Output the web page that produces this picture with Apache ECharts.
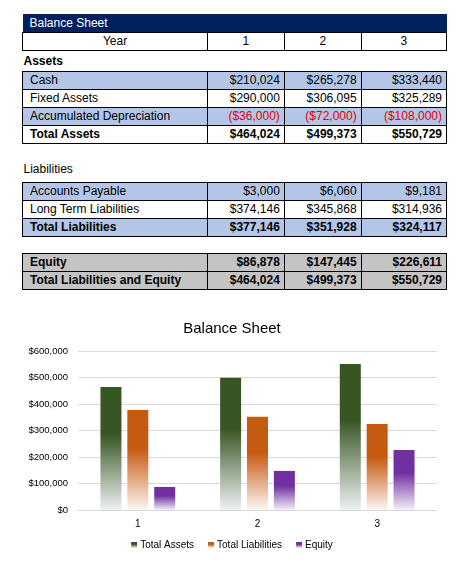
<!DOCTYPE html>
<html>
<head>
<meta charset="utf-8">
<script src="https://cdn.jsdelivr.net/npm/echarts@6/dist/echarts.min.js"></script>
<style>
  body { margin: 0; background: #fff; font-family: "Liberation Sans", Arial, sans-serif; }
  #sheet { position: absolute; left: 22px; top: 14px; width: 425px; border-collapse: collapse; font-size: 12px; color: #000; }
  #sheet td { height: 17px; padding: 0 4px; line-height: 17px; white-space: nowrap; }
  #sheet td.lbl { padding-left: 7px; }
  #sheet tr.head td { background: #002060; color: #fff; height: 18px; }
  #sheet tr.b td { border: 1px solid #000; }
  #sheet tr.blue td { background: #b4c6e7; }
  #sheet tr.grey td { background: #c4c4c4; }
  #sheet tr.bold td { font-weight: bold; }
  #sheet td.num { text-align: right; }
  #sheet td.neg { color: #e00000; }
  #sheet tr.gap td { height: 12px; }
  #chart { position: absolute; left: 0; top: 300px; width: 464px; height: 277px; }
</style>
</head>
<body>
<table id="sheet"></table>
<div id="chart"></div>
<script>
var years = ['1', '2', '3'];
var cash = [210024, 265278, 333440];
var fixedAssets = [290000, 306095, 325289];
var accumDepreciation = [-36000, -72000, -108000];
var totalAssets = [464024, 499373, 550729];
var accountsPayable = [3000, 6060, 9181];
var longTermLiabilities = [374146, 345868, 314936];
var totalLiabilities = [377146, 351928, 324117];
var equity = [86878, 147445, 226611];
var totalLiabEquity = [464024, 499373, 550729];

function money(v) {
    var s = '$' + Math.abs(v).toLocaleString('en-US');
    return v < 0 ? '(' + s + ')' : s;
}

// table rows: [label, values, row classes]
function row(label, vals, cls) {
    var html = '<tr class="' + cls + '"><td class="lbl">' + label + '</td>';
    for (var i = 0; i < vals.length; i++) {
        html += '<td class="num' + (vals[i] < 0 ? ' neg' : '') + '">' + money(vals[i]) + '</td>';
    }
    return html + '</tr>';
}

var t = '';
t += '<tr class="head"><td class="lbl" colspan="4">Balance Sheet</td></tr>';
t += '<tr class="b"><td style="text-align:center;width:176px">Year</td>';
for (var i = 0; i < years.length; i++) t += '<td style="text-align:center">' + years[i] + '</td>';
t += '</tr>';
t += '<tr class="bold"><td class="lbl" colspan="4" style="height:20px;line-height:20px;padding-left:1px">Assets</td></tr>';
t += row('Cash', cash, 'b blue');
t += row('Fixed Assets', fixedAssets, 'b');
t += row('Accumulated Depreciation', accumDepreciation, 'b blue');
t += row('Total Assets', totalAssets, 'b bold');
t += '<tr class="gap"><td colspan="4"></td></tr>';
t += '<tr><td class="lbl" colspan="4" style="height:22px;line-height:26px;padding-left:1px">Liabilities</td></tr>';
t += row('Accounts Payable', accountsPayable, 'b blue');
t += row('Long Term Liabilities', longTermLiabilities, 'b');
t += row('Total Liabilities', totalLiabilities, 'b blue bold');
t += '<tr class="gap"><td colspan="4" style="height:16px"></td></tr>';
t += row('Equity', equity, 'b grey bold');
t += row('Total Liabilities and Equity', totalLiabEquity, 'b grey bold');
document.getElementById('sheet').innerHTML = t;

function fade(c, end) {
    return new echarts.graphic.LinearGradient(0, 0, 0, 1, [
        {offset: 0, color: c},
        {offset: 0.38, color: c},
        {offset: 1, color: end}
    ]);
}

var myChart = echarts.init(document.getElementById('chart'));
var option = {
    animation: false,
    title: {
        text: 'Balance Sheet',
        left: 'center',
        top: 16,
        textStyle: { fontSize: 15, fontWeight: 'normal', color: '#000', fontFamily: 'Liberation Sans' }
    },
    grid: { left: 78, right: 27, top: 51, bottom: 67 },
    legend: {
        bottom: 22,
        left: 'center',
        itemWidth: 6,
        itemHeight: 6,
        itemGap: 14,
        icon: 'rect',
        textStyle: { fontSize: 10, color: '#000', fontFamily: 'Liberation Sans', padding: [0, 0, 0, -2] },
        data: ['Total Assets', 'Total Liabilities', 'Equity']
    },
    xAxis: {
        type: 'category',
        data: years,
        axisLine: { lineStyle: { color: '#d9d9d9' } },
        axisTick: { show: false },
        axisLabel: { fontSize: 10, color: '#000', margin: 9 }
    },
    yAxis: {
        type: 'value',
        min: 0,
        max: 600000,
        interval: 100000,
        axisLine: { show: false },
        axisTick: { show: false },
        splitLine: { lineStyle: { color: '#d9d9d9' } },
        axisLabel: {
            fontSize: 9.5,
            color: '#000',
            margin: 10,
            formatter: function (v) { return money(v); }
        }
    },
    series: [
        {
            name: 'Total Assets',
            type: 'bar',
            barWidth: 21,
            barGap: '28%',
            itemStyle: { color: fade('#375623', '#eef1f2') },
            data: totalAssets
        },
        {
            name: 'Total Liabilities',
            type: 'bar',
            barWidth: 21,
            itemStyle: { color: fade('#c55a11', '#fdf6f3') },
            data: totalLiabilities
        },
        {
            name: 'Equity',
            type: 'bar',
            barWidth: 21,
            itemStyle: { color: fade('#7030a0', '#f4eefa') },
            data: equity
        }
    ]
};
myChart.setOption(option);
</script>
</body>
</html>
